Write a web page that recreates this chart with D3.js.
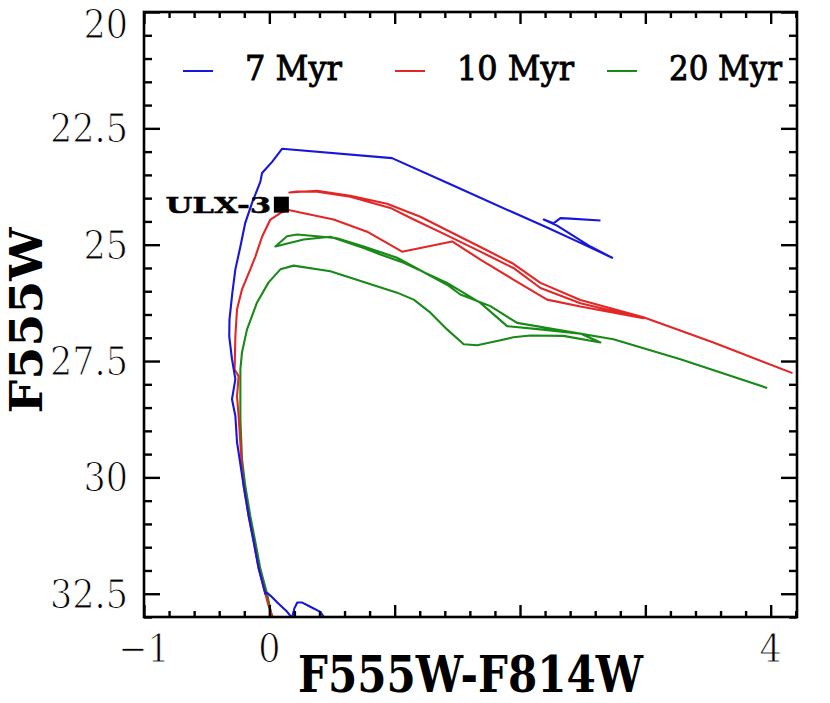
<!DOCTYPE html>
<html><head><meta charset="utf-8">
<script src="https://cdn.jsdelivr.net/npm/d3@7/dist/d3.min.js"></script>
<style>body{margin:0;background:#fff}svg{display:block}</style>
</head><body>
<svg id="c" width="830" height="703"></svg>
<script>
// ---- data: [F555W-F814W colour, F555W magnitude] ----
const seriesNames = ["7 Myr", "10 Myr", "20 Myr"];
const seriesColors = ["#1616dc", "#e32626", "#178a17"];

const iso7Myr = [
  [0.447,33.05],[0.407,32.89],[0.327,32.78],[0.263,32.69],[0.223,32.69],[0.199,32.82],
  [0.181,33.02],[0.136,32.87],[0.072,32.71],[0.008,32.54],[-0.018,32.48],[-0.032,32.50],
  [-0.085,31.96],[-0.125,31.38],[-0.165,30.83],[-0.205,30.18],[-0.237,29.61],[-0.258,29.24],
  [-0.271,28.68],[-0.298,28.32],[-0.271,27.89],[-0.298,27.46],[-0.320,26.97],[-0.318,26.61],
  [-0.295,26.03],[-0.271,25.53],[-0.231,25.04],[-0.192,24.53],[-0.138,24.10],[-0.072,23.65],
  [-0.058,23.46],[0.022,23.22],[0.101,22.94],[0.979,23.14],[1.418,23.67],[1.947,24.31],
  [2.216,24.63],[2.482,24.96],[2.735,25.28],[2.562,25.04],[2.296,24.59],[2.189,24.46],
  [2.267,24.54],[2.322,24.43],[2.402,24.44],[2.642,24.48]
];

const iso10Myr = [
  [0.034,33.05],[-0.006,32.76],[-0.032,32.50],[-0.085,31.96],[-0.125,31.38],[-0.165,30.83],
  [-0.205,30.18],[-0.218,29.82],[-0.245,28.68],[-0.258,28.26],[-0.245,27.83],[-0.277,27.68],
  [-0.271,26.97],[-0.258,26.39],[-0.218,25.96],[-0.152,25.53],[-0.112,25.26],[-0.058,24.83],
  [0.008,24.46],[0.088,24.32],[0.144,24.25],
  [0.247,24.31],[0.513,24.46],[0.780,24.72],[1.059,25.15],[1.458,24.93],[1.684,25.32],
  [1.947,25.75],[2.216,26.18],[2.482,26.33],[2.985,26.58],
  [2.482,26.26],[2.163,25.93],[1.947,25.50],[1.684,25.15],[1.418,24.80],[1.152,24.46],
  [0.966,24.21],[0.646,23.97],[0.381,23.86],[0.221,23.86],[0.160,23.88],
  [0.381,23.84],[0.646,23.95],[0.939,24.12],[1.205,24.40],[1.418,24.69],[1.684,25.05],
  [1.947,25.41],[2.163,25.82],[2.482,26.19],[2.985,26.56],[3.543,27.10],[4.174,27.76]
];

const iso20Myr = [
  [0.024,33.05],[-0.018,32.50],[-0.072,31.96],[-0.112,31.38],[-0.152,30.83],[-0.192,30.18],
  [-0.218,29.61],[-0.231,28.75],[-0.231,27.68],[-0.218,27.31],[-0.178,26.82],[-0.098,26.24],
  [-0.006,25.81],[0.088,25.53],[0.194,25.45],[0.487,25.57],[1.019,26.03],[1.152,26.18],
  [1.285,26.46],[1.418,26.82],[1.551,27.14],[1.658,27.16],[1.817,27.07],[1.947,26.99],
  [2.083,26.95],[2.346,26.96],[2.642,27.10],
  [2.482,26.91],[2.163,26.82],[1.897,26.75],[1.684,26.25],[1.418,25.82],[1.072,25.39],
  [0.886,25.21],[0.753,25.07],[0.487,24.83],[0.274,24.89],[0.048,25.04],
  [0.141,24.82],[0.221,24.78],[0.381,24.82],[0.540,24.86],[0.753,25.04],[1.019,25.28],
  [1.418,25.86],[1.524,26.07],[1.764,26.32],[1.977,26.68],[2.745,27.03],[3.280,27.46],
  [3.972,28.08]
];

const sourceName = ["ULX-3"];
const sourceColor = [0.096];
const sourceMag = [24.14];

const xTickLabels = [-1, 0, 4];
const yTickLabels = [20, 22.5, 25, 27.5, 30, 32.5];
const xDomain = [-1, 4.21];
const yDomain = [20, 33];
const xTitle = "F555W-F814W";
const yTitle = "F555W";

// ---- layout ----
const m = {left: 144, right: 797, top: 12, bottom: 617};
const SY = 1.1; // vertical stretch of the lettering in the reference
const svg = d3.select("#c");
const x = d3.scaleLinear().domain(xDomain).range([m.left, m.right]);
const y = d3.scaleLinear().domain(yDomain).range([m.top, m.bottom]);

svg.append("defs").append("clipPath").attr("id", "clip")
  .append("rect").attr("x", m.left).attr("y", m.top)
  .attr("width", m.right - m.left).attr("height", m.bottom - m.top);

// curves
const line = d3.line().x(d => x(d[0])).y(d => y(d[1]));
const isos = [iso7Myr, iso10Myr, iso20Myr];
const drawOrder = [2, 1, 0];
const gCurves = svg.append("g").attr("clip-path", "url(#clip)");
drawOrder.forEach(i => {
  gCurves.append("path").datum(isos[i]).attr("d", line)
    .attr("fill", "none").attr("stroke", seriesColors[i])
    .attr("stroke-width", 2.1).attr("stroke-linejoin", "round");
});

// ticks
const xMajor = d3.range(-1, 4.001, 1);
const xMinor = d3.range(-1, 4.21, 0.2).filter(v => Math.abs(v - Math.round(v)) > 1e-6);
const yMajor = d3.range(20, 33.001, 2.5);
const yMinor = d3.range(20, 33.001, 0.5).filter(v => Math.abs(v / 2.5 - Math.round(v / 2.5)) > 1e-6);

function axisG(axis, tx, ty) {
  const g = svg.append("g").attr("transform", `translate(${tx},${ty})`).call(axis);
  g.select(".domain").remove();
  g.selectAll("line").attr("stroke", "#000").attr("stroke-width", 2.4);
  g.selectAll("text").remove();
}
axisG(d3.axisBottom(x).tickValues(xMajor).tickSize(-12).tickFormat(""), 0, m.bottom);
axisG(d3.axisBottom(x).tickValues(xMinor).tickSize(-6).tickFormat(""), 0, m.bottom);
axisG(d3.axisTop(x).tickValues(xMajor).tickSize(-12).tickFormat(""), 0, m.top);
axisG(d3.axisTop(x).tickValues(xMinor).tickSize(-6).tickFormat(""), 0, m.top);
axisG(d3.axisLeft(y).tickValues(yMajor).tickSize(-16).tickFormat(""), m.left, 0);
axisG(d3.axisLeft(y).tickValues(yMinor).tickSize(-8).tickFormat(""), m.left, 0);
axisG(d3.axisRight(y).tickValues(yMajor).tickSize(-16).tickFormat(""), m.right, 0);
axisG(d3.axisRight(y).tickValues(yMinor).tickSize(-8).tickFormat(""), m.right, 0);

svg.append("rect").attr("x", m.left).attr("y", m.top)
  .attr("width", m.right - m.left).attr("height", m.bottom - m.top)
  .attr("fill", "none").attr("stroke", "#000").attr("stroke-width", 2.6);

// text helper: optional fit to a target width, with the reference's vertical stretch
function label(tx, ty, txt, o) {
  const g = svg.append("g");
  const t = g.append("text").text(txt)
    .attr("font-family", o.family || "'DejaVu Serif', serif")
    .attr("font-size", o.size).attr("font-weight", o.weight || "normal")
    .attr("text-anchor", o.anchor || "start").attr("fill", "#000");
  if (o.dy) t.attr("dy", o.dy);
  if (o.thin) t.attr("stroke", "#fff").attr("stroke-width", o.thin);
  if (o.thick) t.attr("stroke", "#000").attr("stroke-width", o.thick);
  let sx = 1;
  if (o.fit) sx = o.fit / t.node().getComputedTextLength();
  const tr = o.rot ? `translate(${tx},${ty}) rotate(-90) scale(${o.fit ? sx : SY},1)`
                   : `translate(${tx},${ty}) scale(${sx},${SY})`;
  g.attr("transform", tr);
  return t;
}

const fmt = d3.format("");
xTickLabels.forEach(v => label(x(v), 662, fmt(v), {size: 35, anchor: "middle", thin: 0.9}));
yTickLabels.forEach(v => label(128, Math.max(y(v), 24), fmt(v), {size: 35, anchor: "end", dy: "0.36em", thin: 0.9}));

label((m.left + m.right) / 2, 692, xTitle, {size: 45, weight: "bold", anchor: "middle", fit: 345});
label(42, (m.top + m.bottom) / 2 + 6, yTitle, {size: 44, weight: "bold", anchor: "middle", fit: 186, rot: true});

// legend
const legX = [183, 395, 607];
const legW = [97, 117, 113];
seriesNames.forEach((n, i) => {
  svg.append("line").attr("x1", legX[i]).attr("x2", legX[i] + 30)
    .attr("y1", 71).attr("y2", 71).attr("stroke", seriesColors[i]).attr("stroke-width", 2);
  label(legX[i] + 62, 80, n, {size: 30, weight: "normal", fit: legW[i], thick: 0.8});
});

// ULX-3 source
svg.append("g").selectAll("rect").data(sourceColor).join("rect")
  .attr("x", d => x(d) - 7.5).attr("y", (d, i) => y(sourceMag[i]) - 8)
  .attr("width", 15).attr("height", 16).attr("fill", "#000");
sourceName.forEach((n, i) => {
  label(x(sourceColor[i]) - 10, y(sourceMag[i]) + 8, n,
    {size: 21, weight: "bold", anchor: "end", fit: 106, thick: 0.4});
});
</script>
</body></html>
